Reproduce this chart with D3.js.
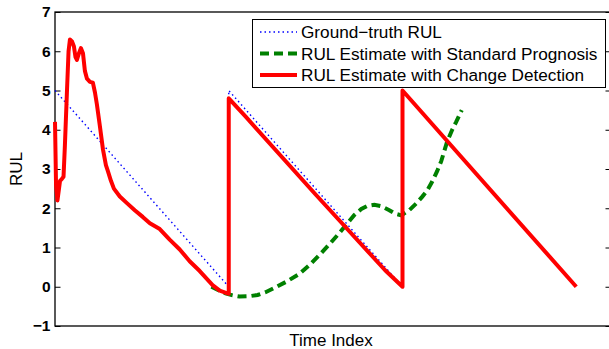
<!DOCTYPE html>
<html>
<head>
<meta charset="utf-8">
<style>
  body { margin: 0; background: #fff; }
  text { font-family: "Liberation Sans", Arial, sans-serif; }
</style>
</head>
<body>
<svg width="609" height="349"></svg>
<script src="https://d3js.org/d3.v7.min.js"></script>
<script>
// ground truth RUL (time index, RUL)
const truthT = [0, 100, 100, 200, 200, 300];
const truthY = [5, 0, 5, 0, 5, 0];

// RUL estimate with change detection
const changeT = [0, 0.6, 1.4, 2.3, 2.9, 4.0, 4.9, 5.7, 6.9, 7.8, 8.6, 9.8, 10.9, 11.8, 12.6, 13.8, 14.9, 16.1, 17.2, 18.4,
  20.1, 21.8, 23.0, 24.1, 25.8, 27.6, 29.3, 30.4, 32.2, 33.9, 37.3, 41.4, 45.9, 50.5, 54.6, 60.3, 66.0, 71.8, 77.5, 83.3,
  90.7, 94.8, 100, 100, 110, 150, 190, 200, 200, 300];
const changeY = [4.2, 2.6, 2.2, 2.5, 2.7, 2.75, 2.8, 3.6, 5.0, 6.0, 6.3, 6.25, 6.12, 5.85, 5.78, 5.95, 6.08, 5.95, 5.5, 5.3,
  5.22, 5.2, 4.95, 4.65, 4.1, 3.5, 3.1, 2.95, 2.7, 2.5, 2.3, 2.13, 1.95, 1.78, 1.62, 1.47, 1.2, 0.95, 0.65, 0.4,
  0.04, -0.1, -0.18, 4.8, 4.32, 2.35, 0.42, 0, 5, 0];

// RUL estimate with standard prognosis
const stdT = [90.0, 94.8, 98.2, 102.2, 106.2, 112.0, 116.6, 121.2, 126.3, 133.2, 140.7, 146.4, 152.2, 157.9, 163.7,
  168.3, 172.3, 176.3, 179.8, 183.8, 187.8, 192.4, 195.8, 199.3, 203.9, 207.9, 211.3, 214.2, 217.1, 220.0, 222.3,
  225.7, 228.6, 230.9, 234.1];
const stdY = [0.0, -0.1, -0.17, -0.22, -0.25, -0.24, -0.21, -0.14, -0.03, 0.13, 0.33, 0.55, 0.81, 1.08, 1.37,
  1.62, 1.83, 1.98, 2.06, 2.09, 2.05, 1.95, 1.86, 1.82, 1.95, 2.12, 2.29, 2.45, 2.68, 2.95, 3.2,
  3.7, 4.0, 4.2, 4.5];

const yTicks = [-1, 0, 1, 2, 3, 4, 5, 6, 7];
const legendLabels = ["Ground\u2212truth RUL", "RUL Estimate with Standard Prognosis", "RUL Estimate with Change Detection"];

const svg = d3.select("svg");
const mLeft = 55, mRight = 611, mTop = 12, mBottom = 326;

const x = d3.scaleLinear().domain([0, 320]).range([mLeft, mRight]);
const y = d3.scaleLinear().domain([-1, 7]).range([mBottom, mTop]);

const line = d3.line().x(d => x(d[0])).y(d => y(d[1]));
const zip = (a, b) => a.map((v, i) => [v, b[i]]);

// box
svg.append("rect")
  .attr("x", mLeft).attr("y", mTop)
  .attr("width", mRight - mLeft).attr("height", mBottom - mTop)
  .attr("fill", "#fff").attr("stroke", "#000").attr("stroke-width", 1.3);

// y axis left
svg.append("g")
  .attr("transform", "translate(" + mLeft + ",0)")
  .call(d3.axisLeft(y).tickValues(yTicks).tickSizeInner(-5.5).tickSizeOuter(0).tickPadding(4.5))
  .call(g => g.select(".domain").remove())
  .call(g => g.selectAll("line").attr("stroke", "#000"))
  .call(g => g.selectAll("text").attr("font-size", 15.5).attr("font-weight", "bold")
    .attr("font-family", "Liberation Sans, Arial, sans-serif").attr("fill", "#000"));

// y axis right ticks
svg.append("g")
  .attr("transform", "translate(" + mRight + ",0)")
  .call(d3.axisRight(y).tickValues(yTicks).tickSizeInner(-5.5).tickSizeOuter(0).tickFormat(""))
  .call(g => g.select(".domain").remove())
  .call(g => g.selectAll("line").attr("stroke", "#000"));

const plot = svg.append("g");

plot.append("path")
  .attr("d", line(zip(truthT, truthY)))
  .attr("fill", "none").attr("stroke", "#0000ff").attr("stroke-width", 1.4)
  .attr("stroke-dasharray", "1.5,3");

plot.append("path")
  .attr("d", line(zip(stdT, stdY)))
  .attr("fill", "none").attr("stroke", "#008000").attr("stroke-width", 4)
  .attr("stroke-dasharray", "9,5");

plot.append("path")
  .attr("d", line(zip(changeT, changeY)))
  .attr("fill", "none").attr("stroke", "#ff0000").attr("stroke-width", 4)
  .attr("stroke-linejoin", "round");

// axis labels
svg.append("text")
  .attr("x", (mLeft + 607) / 2).attr("y", 346)
  .attr("text-anchor", "middle").attr("font-size", 17)
  .text("Time Index");

svg.append("text")
  .attr("transform", "translate(22," + (mTop + mBottom) / 2 + ") rotate(-90)")
  .attr("text-anchor", "middle").attr("font-size", 17)
  .text("RUL");

// legend
const lg = svg.append("g");
lg.append("rect")
  .attr("x", 252.5).attr("y", 19.5).attr("width", 353).attr("height", 68)
  .attr("fill", "#fff").attr("stroke", "#000").attr("stroke-width", 1);

const legendStyles = [
  { color: "#0000ff", width: 1.4, dash: "1.5,3" },
  { color: "#008000", width: 4, dash: "9,5" },
  { color: "#ff0000", width: 4, dash: null }
];
legendLabels.forEach((lab, i) => {
  const ly = 32 + i * 21.5;
  lg.append("line")
    .attr("x1", 260).attr("x2", 297).attr("y1", ly).attr("y2", ly)
    .attr("stroke", legendStyles[i].color).attr("stroke-width", legendStyles[i].width)
    .attr("stroke-dasharray", legendStyles[i].dash);
  lg.append("text")
    .attr("x", 301).attr("y", ly).attr("dy", "0.36em")
    .attr("font-size", 17.2)
    .text(lab);
});
</script>
</body>
</html>
